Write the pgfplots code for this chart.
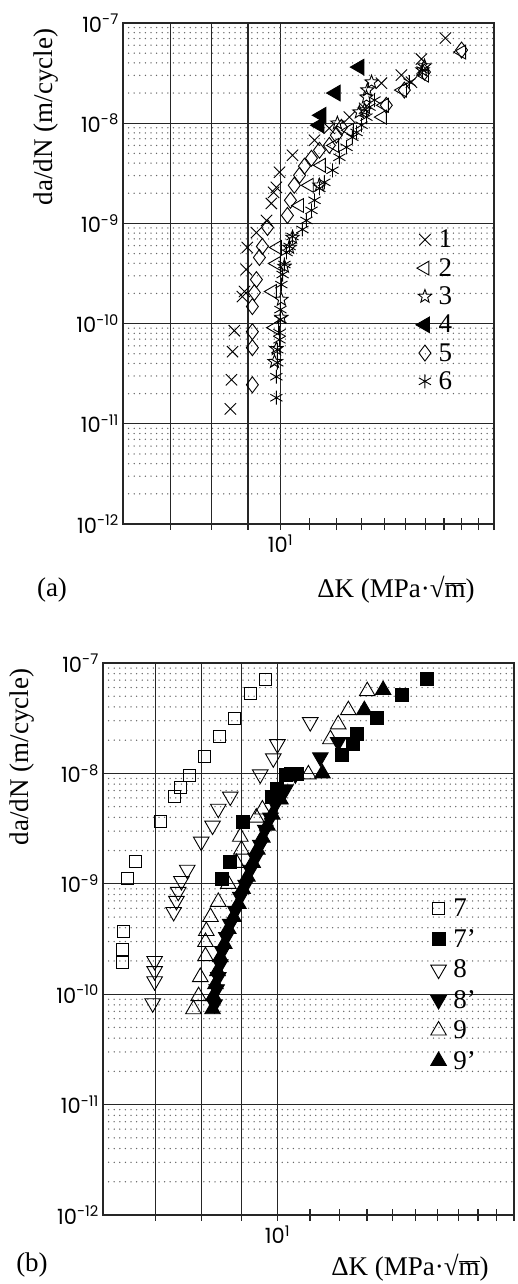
\documentclass[border=0pt]{standalone}
\usepackage{fontspec}
\setmainfont{Liberation Serif}
\newfontfamily\tickfont{Poppins}
\usepackage{pgfplots}
\pgfplotsset{compat=1.18}

\pgfdeclareplotmark{ostar}{%
  \pgfpathmoveto{\pgfpointpolar{90}{\pgfplotmarksize}}%
  \pgfpathlineto{\pgfpointpolar{126}{0.42\pgfplotmarksize}}%
  \pgfpathlineto{\pgfpointpolar{162}{\pgfplotmarksize}}%
  \pgfpathlineto{\pgfpointpolar{198}{0.42\pgfplotmarksize}}%
  \pgfpathlineto{\pgfpointpolar{234}{\pgfplotmarksize}}%
  \pgfpathlineto{\pgfpointpolar{270}{0.42\pgfplotmarksize}}%
  \pgfpathlineto{\pgfpointpolar{306}{\pgfplotmarksize}}%
  \pgfpathlineto{\pgfpointpolar{342}{0.42\pgfplotmarksize}}%
  \pgfpathlineto{\pgfpointpolar{18}{\pgfplotmarksize}}%
  \pgfpathlineto{\pgfpointpolar{54}{0.42\pgfplotmarksize}}%
  \pgfpathclose
  \pgfusepathqstroke
}

\pgfplotsset{
  every axis plot/.append style={only marks, black, line width=0.9pt},
  every axis legend/.append style={draw=none, fill=none, anchor=north west,
      font=\fontsize{27}{30}\selectfont, inner sep=0pt,
      /tikz/every odd column/.append style={column sep=5pt}},
}

\newcommand{\dKlabel}{ΔK (MPa·√$\overline{\mbox{m}}$)}

\begin{document}
\begin{tikzpicture}[x=1pt,y=1pt]
\path[use as bounding box] (0,0) rectangle (517,1284);

% ---------------- panel (a) ----------------
\begin{axis}[at={(123pt,760pt)}, anchor=south west,
    width=371pt, height=501pt,
    xmode=log, ymode=log, scale only axis, clip=false,
    xmin=6, xmax=20, ymin=1e-12, ymax=1e-7,
    xtick={7,8,9,10},
    xticklabels={,,,{10\textsuperscript{1}}},
    ytick={1e-12,1e-11,1e-10,1e-9,1e-8,1e-7},
    yticklabels={10\textsuperscript{-12},10\textsuperscript{-11},10\textsuperscript{-10},10\textsuperscript{-9},10\textsuperscript{-8},10\textsuperscript{-7}},
    minor ytick={2e-12,3e-12,4e-12,5e-12,6e-12,7e-12,8e-12,9e-12,
                 2e-11,3e-11,4e-11,5e-11,6e-11,7e-11,8e-11,9e-11,
                 2e-10,3e-10,4e-10,5e-10,6e-10,7e-10,8e-10,9e-10,
                 2e-9,3e-9,4e-9,5e-9,6e-9,7e-9,8e-9,9e-9,
                 2e-8,3e-8,4e-8,5e-8,6e-8,7e-8,8e-8,9e-8},
    xmajorgrids, ymajorgrids, yminorgrids,
    major grid style={line width=1.3pt, black!85},
    minor grid style={line width=1.5pt, line cap=round, dash pattern=on 0pt off 5.6pt, black!60},
    axis line style={line width=1.4pt, black!85},
    xtick style={draw=none}, minor x tick style={draw=none},
    ytick style={draw=none}, minor y tick style={draw=none},
    yticklabel style={font=\tickfont\fontsize{21}{21}\selectfont, inner sep=4pt},
    xticklabel style={font=\tickfont\fontsize{21}{21}\selectfont, yshift=-7pt},
    legend cell align=left,
    legend style={at={(0.789,0.591)}, row sep=5pt}]
\pgfplotsinvokeforeach{11,12,13,14,15,16,17,18,19,20}{
  \draw[line width=1.2pt, black!85] (axis cs:#1,1e-12) ++(0pt,-6pt) -- ++(0pt,12pt);}
\pgfplotsinvokeforeach{7,8,9,10}{
  \draw[line width=1.3pt, black!85] (axis cs:#1,1e-12) -- ++(0pt,-6pt);}
\addplot[mark=x, mark size=8pt] coordinates {
(8.50,1.41e-11)(8.53,2.75e-11)(8.56,5.25e-11)(8.61,8.5e-11)(8.84,1.86e-10)
(8.90,2.09e-10)(8.95,3.47e-10)(8.98,5.75e-10)(9.25,8.1e-10)(9.56,1.07e-9)
(9.71,1.58e-9)(9.78,2.04e-9)(9.87,2.29e-9)(9.97,3.24e-9)(10.40,4.79e-9)
(11.17,6.76e-9)(11.72,8.9e-9)(12.51,1.15e-8)(13.14,1.41e-8)(13.88,2.51e-8)
(14.81,3.02e-8)(15.30,2.57e-8)(15.80,4.37e-8)(17.08,7.08e-8)};
\addlegendentry{1}
\addplot[mark=triangle, mark size=8pt, mark options={rotate=90}] coordinates {
(9.81,9.1e-11)(9.74,2.09e-10)(9.87,3.98e-10)(9.90,5.75e-10)(10.64,1.51e-9)
(10.98,2.4e-9)(11.42,3.8e-9)(11.92,6.0e-9)(12.51,8.5e-9)(13.92,1.15e-8)
(14.01,1.51e-8)(14.86,2.14e-8)(15.96,3.02e-8)(18.0,5.13e-8)};
\addlegendentry{2}
\addplot[mark=ostar, mark size=7pt] coordinates {
(9.81,4.17e-11)(9.87,5.6e-11)(10.03,1.15e-10)(10.03,1.74e-10)(10.13,3.72e-10)
(10.30,5.75e-10)(10.40,7.24e-10)(11.35,2.4e-9)(12.03,1.0e-8)(12.92,1.29e-8)
(13.14,1.35e-8)(13.22,1.82e-8)(13.26,2.14e-8)(13.44,2.57e-8)(15.86,3.39e-8)
(15.96,3.72e-8)};
\addlegendentry{3}
\addplot[mark=triangle*, mark size=9pt, mark options={rotate=90, fill=black}] coordinates {
(11.35,9.55e-9)(11.42,1.2e-8)(11.96,2.0e-8)(12.92,3.63e-8)};
\addlegendentry{4}
\addplot[mark=diamond, mark size=8pt] coordinates {
(9.13,2.45e-11)(9.13,5.75e-11)(9.13,8.3e-11)(9.13,1.48e-10)(9.19,2.04e-10)
(9.25,2.75e-10)(9.34,4.57e-10)(9.43,5.89e-10)(9.59,9.1e-10)(10.23,1.2e-9)
(10.33,1.7e-9)(10.46,2.4e-9)(10.64,3.02e-9)(10.81,3.72e-9)(11.06,4.47e-9)
(11.35,5.37e-9)(11.72,6.0e-9)(11.99,7.6e-9)(12.19,9.1e-9)(14.10,1.51e-8)
(14.95,2.14e-8)(15.96,3.24e-8)(18.0,5.37e-8)};
\addlegendentry{5}
\addplot[mark=asterisk, mark size=7pt] coordinates {
(9.87,1.82e-11)(9.87,2.95e-11)(9.90,4.07e-11)(9.90,5.5e-11)(9.97,6.9e-11)
(9.97,8.1e-11)(10.0,1.1e-10)(10.0,1.38e-10)(10.03,2.45e-10)(10.07,3.09e-10)
(10.13,3.89e-10)(10.20,5.13e-10)(10.30,5.89e-10)(10.40,7.4e-10)(10.74,8.7e-10)
(10.88,1.07e-9)(11.06,1.35e-9)(11.17,1.7e-9)(11.35,2.24e-9)(11.53,2.57e-9)
(11.84,3.39e-9)(12.11,4.57e-9)(12.39,5.75e-9)(12.63,7.24e-9)(12.80,8.1e-9)
(13.01,9.55e-9)(13.22,1.15e-8)(13.35,1.45e-8)(13.57,1.7e-8)(15.20,2.57e-8)
(15.86,3.39e-8)};
\addlegendentry{6}
\end{axis}

\node[rotate=90, font=\fontsize{27}{27}\selectfont, inner sep=0pt] at (46,1167) {da/dN (m/cycle)};
\node[font=\fontsize{27}{27}\selectfont, inner sep=0pt] at (52,694) {(a)};
\node[font=\fontsize{27}{27}\selectfont, inner sep=0pt] at (396,694) {\dKlabel};

% ---------------- panel (b) ----------------
\begin{axis}[at={(103pt,69pt)}, anchor=south west,
    width=411pt, height=552pt,
    xmode=log, ymode=log, scale only axis, clip=false,
    xmin=6, xmax=20, ymin=1e-12, ymax=1e-7,
    xtick={7,8,9,10},
    xticklabels={,,,{10\textsuperscript{1}}},
    ytick={1e-12,1e-11,1e-10,1e-9,1e-8,1e-7},
    yticklabels={10\textsuperscript{-12},10\textsuperscript{-11},10\textsuperscript{-10},10\textsuperscript{-9},10\textsuperscript{-8},10\textsuperscript{-7}},
    minor ytick={2e-12,3e-12,4e-12,5e-12,6e-12,7e-12,8e-12,9e-12,
                 2e-11,3e-11,4e-11,5e-11,6e-11,7e-11,8e-11,9e-11,
                 2e-10,3e-10,4e-10,5e-10,6e-10,7e-10,8e-10,9e-10,
                 2e-9,3e-9,4e-9,5e-9,6e-9,7e-9,8e-9,9e-9,
                 2e-8,3e-8,4e-8,5e-8,6e-8,7e-8,8e-8,9e-8},
    xmajorgrids, ymajorgrids, yminorgrids,
    major grid style={line width=1.3pt, black!85},
    minor grid style={line width=1.5pt, line cap=round, dash pattern=on 0pt off 5.6pt, black!60},
    axis line style={line width=1.4pt, black!85},
    xtick style={draw=none}, minor x tick style={draw=none},
    ytick style={draw=none}, minor y tick style={draw=none},
    yticklabel style={font=\tickfont\fontsize{21}{21}\selectfont, inner sep=4pt},
    xticklabel style={font=\tickfont\fontsize{21}{21}\selectfont, yshift=-7pt},
    legend cell align=left,
    legend style={at={(0.797,0.576)}, row sep=7pt}]
\pgfplotsinvokeforeach{11,12,13,14,15,16,17,18,19,20}{
  \draw[line width=1.2pt, black!85] (axis cs:#1,1e-12) ++(0pt,-6pt) -- ++(0pt,12pt);}
\pgfplotsinvokeforeach{7,8,9,10}{
  \draw[line width=1.3pt, black!85] (axis cs:#1,1e-12) -- ++(0pt,-6pt);}
\addplot[mark=square, mark size=6pt] coordinates {
(9.65,7.16e-8)(9.24,5.33e-8)(8.82,3.16e-8)(8.44,2.17e-8)(8.08,1.43e-8)
(7.73,9.6e-9)(7.53,7.46e-9)(7.40,6.17e-9)(7.10,3.66e-9)(6.60,1.58e-9)
(6.45,1.11e-9)(6.37,3.74e-10)(6.35,2.57e-10)(6.35,1.95e-10)};
\addlegendentry{7}
\addplot[mark=square*, mark size=6.5pt, mark options={fill=black}] coordinates {
(15.50,7.16e-8)(14.41,5.12e-8)(13.40,3.16e-8)(12.64,2.26e-8)(12.49,1.84e-8)
(12.09,1.46e-8)(10.60,9.9e-9)(10.39,9.8e-9)(10.25,9.6e-9)(10.0,7.16e-9)
(9.83,6.17e-9)(9.03,3.66e-9)(8.71,1.58e-9)(8.51,1.11e-9)};
\addlegendentry{7’}
\addplot[mark=triangle, mark size=9pt, mark options={rotate=180}] coordinates {
(11.01,2.91e-8)(10.0,1.84e-8)(9.88,1.37e-8)(9.51,9.8e-9)(8.71,6.17e-9)
(8.41,4.79e-9)(8.27,3.37e-9)(8.00,2.41e-9)(7.68,1.34e-9)(7.55,1.06e-9)
(7.48,8.46e-10)(7.44,7.0e-10)(7.38,5.56e-10)(6.98,2.0e-10)(6.98,1.62e-10)
(6.98,1.31e-10)(6.94,8.28e-11)};
\addlegendentry{8}
\addplot[mark=triangle*, mark size=9pt, mark options={rotate=180, fill=black}] coordinates {
(11.95,1.92e-8)(11.34,1.40e-8)(10.54,9.8e-9)(10.24,7.16e-9)(9.94,5.22e-9)
(9.80,3.98e-9)(9.65,3.09e-9)(9.51,2.26e-9)(9.38,1.72e-9)(9.24,1.34e-9)
(9.11,9.8e-10)(8.97,7.62e-10)(8.84,5.69e-10)(8.71,4.33e-10)(8.61,3.30e-10)
(8.51,2.46e-10)(8.46,1.87e-10)(8.41,1.43e-10)(8.37,1.11e-10)(8.32,8.11e-11)};
\addlegendentry{8’}
\addplot[mark=triangle, mark size=9pt] coordinates {
(13.01,5.56e-8)(12.31,3.74e-8)(11.95,2.78e-8)(11.68,2.04e-8)(10.95,9.8e-9)
(9.57,4.71e-9)(9.40,3.98e-9)(8.97,2.67e-9)(9.00,2.04e-9)(8.87,1.55e-9)
(8.66,1.0e-9)(8.41,6.86e-10)(8.22,5.01e-10)(8.12,3.74e-10)(8.10,2.97e-10)
(8.10,2.21e-10)(7.98,1.43e-10)(7.94,9.6e-11)(7.82,7.31e-11)};
\addlegendentry{9}
\addplot[mark=triangle*, mark size=9pt, mark options={fill=black}] coordinates {
(13.63,5.69e-8)(12.90,3.74e-8)(11.41,1.0e-8)(10.09,5.8e-9)(9.85,4.24e-9)
(9.71,3.37e-9)(9.57,2.62e-9)(9.43,2.04e-9)(9.30,1.55e-9)(9.16,1.16e-9)
(9.03,9.0e-10)(8.92,6.58e-10)(8.79,5.01e-10)(8.66,3.90e-10)(8.56,2.85e-10)
(8.46,2.17e-10)(8.39,1.62e-10)(8.34,1.23e-10)(8.29,9.6e-11)(8.27,7.31e-11)};
\addlegendentry{9’}
\end{axis}

\node[rotate=90, font=\fontsize{27}{27}\selectfont, inner sep=0pt] at (22,527) {da/dN (m/cycle)};
\node[font=\fontsize{27}{27}\selectfont, inner sep=0pt] at (32,19) {(b)};
\node[font=\fontsize{27}{27}\selectfont, inner sep=0pt] at (410,16) {\dKlabel};
\end{tikzpicture}
\end{document}
